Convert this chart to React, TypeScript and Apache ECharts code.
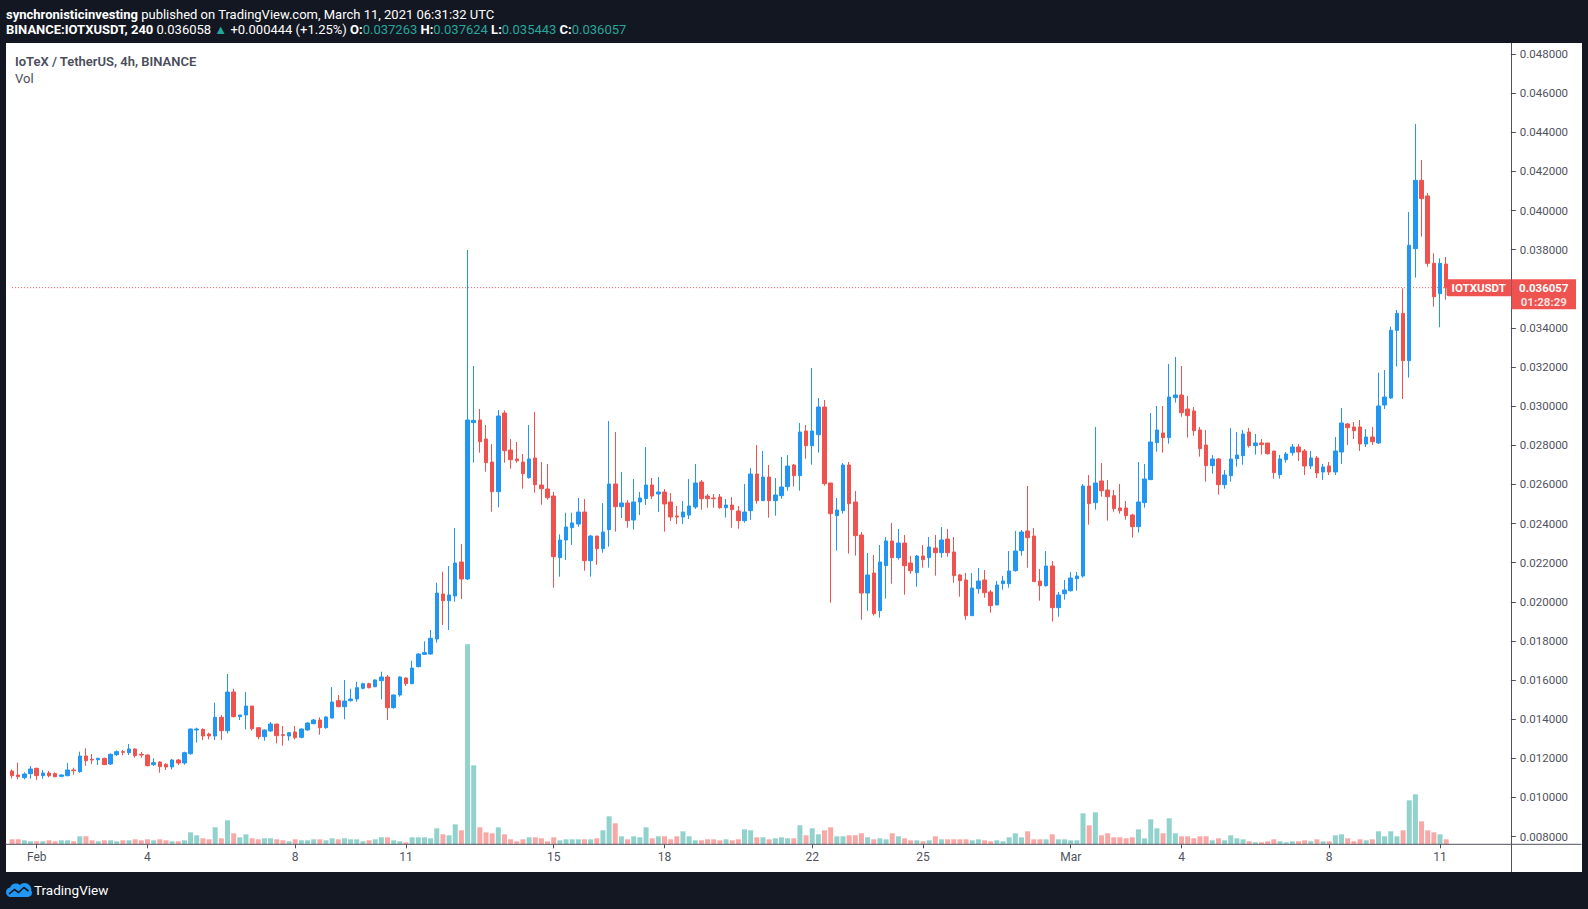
import React, { useEffect, useRef } from "react";
import * as echarts from "echarts";

// ---------- data (4h candles, first = 2021-01-31 08:00 UTC) ----------
const START_UTC = Date.UTC(2021, 0, 31, 8, 0, 0);
const EMPTY_SLOTS = 10;

const opens = [
  0.011353, 0.011149, 0.011012, 0.011217,
  0.011489, 0.011114, 0.011251, 0.011217, 0.011080, 0.011114, 0.011404, 0.011319, 0.012120, 0.011950,
  0.011932, 0.012001, 0.011711, 0.012188, 0.012341, 0.012290, 0.012477, 0.012205, 0.012171, 0.011677,
  0.011813, 0.011694, 0.011558, 0.011915, 0.011762, 0.012239, 0.013449, 0.013483, 0.013244, 0.013142,
  0.014096, 0.013414, 0.015391, 0.014130, 0.014215, 0.014675, 0.013568, 0.013108, 0.013398, 0.013755,
  0.013210, 0.013142, 0.013346, 0.013074, 0.013449, 0.013772, 0.013960, 0.013568, 0.014062, 0.014948,
  0.014641, 0.014948, 0.015033, 0.015578, 0.015817, 0.015663, 0.015970, 0.016157, 0.014590, 0.015238,
  0.016106, 0.015817, 0.016686, 0.017316, 0.017333, 0.018099, 0.020399, 0.020059, 0.020297, 0.022035,
  0.021166, 0.029157, 0.029293, 0.028322, 0.027146, 0.025630, 0.029651, 0.027759, 0.027299, 0.027146,
  0.026345, 0.027351, 0.025970, 0.025766, 0.025408, 0.022257, 0.023160, 0.023790, 0.023977, 0.024591,
  0.022104, 0.023364, 0.022717, 0.023688, 0.026022, 0.024864, 0.025051, 0.024182, 0.025102, 0.025273,
  0.025971, 0.025511, 0.025613, 0.025102, 0.024387, 0.024335, 0.024438, 0.024847, 0.026124, 0.025408,
  0.025306, 0.025357, 0.024812, 0.024948, 0.024642, 0.024148, 0.024659, 0.026533, 0.025170, 0.026379,
  0.025170, 0.025425, 0.025885, 0.026993, 0.026448, 0.028731, 0.027981, 0.028543, 0.029957, 0.026073,
  0.024403, 0.024659, 0.026993, 0.025102, 0.023415, 0.020451, 0.021473, 0.019548, 0.021848, 0.023109,
  0.022257, 0.023007, 0.021984, 0.021490, 0.022342, 0.022257, 0.022751, 0.022512, 0.023211, 0.022547,
  0.021371, 0.021116, 0.019293, 0.020672, 0.021116, 0.020502, 0.019838, 0.020928, 0.020928, 0.021593,
  0.022615, 0.023620, 0.023364, 0.021065, 0.020826, 0.021831, 0.019702, 0.020417, 0.020570, 0.021184,
  0.021320, 0.025920, 0.025068, 0.026176, 0.025716, 0.025426, 0.024796, 0.024796, 0.024438, 0.023842,
  0.025068, 0.026244, 0.028135, 0.028629, 0.028391, 0.030435, 0.030571, 0.029856, 0.029754, 0.028783,
  0.028016, 0.026960, 0.027300, 0.025988, 0.026449, 0.027317, 0.027471, 0.028680, 0.027982, 0.028118,
  0.028118, 0.027709, 0.026500, 0.027266, 0.027624, 0.027914, 0.027709, 0.026943, 0.027352, 0.026636,
  0.026943, 0.026636, 0.027658, 0.029089, 0.028936, 0.028936, 0.028067, 0.028425, 0.028118, 0.030060,
  0.030418, 0.033877, 0.034746, 0.032326, 0.038051, 0.041543, 0.040743, 0.037301, 0.035751, 0.037263,
];

const highs = [
  0.011438, 0.011779, 0.011285, 0.011609,
  0.011523, 0.011404, 0.011353, 0.011285, 0.011182, 0.011762, 0.011523, 0.012341, 0.012511, 0.012222,
  0.012035, 0.012035, 0.012256, 0.012409, 0.012426, 0.012733, 0.012511, 0.012324, 0.012205, 0.012001,
  0.011847, 0.011745, 0.011966, 0.011966, 0.012341, 0.013517, 0.013568, 0.013534, 0.013312, 0.014846,
  0.014215, 0.016311, 0.015561, 0.014215, 0.015391, 0.014675, 0.013568, 0.013483, 0.013857, 0.013755,
  0.013653, 0.013346, 0.013653, 0.013534, 0.013840, 0.014011, 0.014096, 0.014147, 0.015646, 0.015238,
  0.016004, 0.015561, 0.015919, 0.015868, 0.015868, 0.016038, 0.016430, 0.016260, 0.015271, 0.016191,
  0.016140, 0.016992, 0.017367, 0.017980, 0.018560, 0.020978, 0.021541, 0.021830, 0.023773, 0.022955,
  0.037982, 0.032053, 0.029855, 0.029038, 0.028066, 0.029804, 0.029787, 0.028322, 0.028168, 0.027555,
  0.029038, 0.029702, 0.027146, 0.027044, 0.025613, 0.023449, 0.024557, 0.024557, 0.025307, 0.025255,
  0.023415, 0.023364, 0.025051, 0.029242, 0.028680, 0.026635, 0.025204, 0.026278, 0.025613, 0.027913,
  0.026329, 0.026380, 0.025767, 0.025562, 0.024898, 0.025153, 0.026278, 0.027044, 0.026226, 0.025510,
  0.025510, 0.025510, 0.025255, 0.025357, 0.024897, 0.026022, 0.026839, 0.028015, 0.027708, 0.026993,
  0.026328, 0.027402, 0.027504, 0.027044, 0.029140, 0.029037, 0.031951, 0.030417, 0.030315, 0.026073,
  0.025306, 0.027095, 0.027147, 0.025664, 0.023569, 0.022495, 0.022393, 0.022904, 0.023313, 0.024029,
  0.023722, 0.023415, 0.022342, 0.022393, 0.022904, 0.023313, 0.023415, 0.023824, 0.023722, 0.023313,
  0.021422, 0.021473, 0.021473, 0.021729, 0.021627, 0.020604, 0.021065, 0.021320, 0.022598, 0.023620,
  0.023671, 0.025920, 0.023773, 0.021678, 0.022598, 0.022087, 0.020502, 0.021116, 0.021525, 0.021525,
  0.026022, 0.026482, 0.028936, 0.027096, 0.026227, 0.025716, 0.026022, 0.025153, 0.024506, 0.027147,
  0.027045, 0.029652, 0.030009, 0.030009, 0.032156, 0.032514, 0.032054, 0.030520, 0.029958, 0.028936,
  0.028783, 0.027505, 0.027351, 0.026738, 0.028885, 0.028680, 0.028783, 0.028885, 0.028578, 0.028322,
  0.028118, 0.027709, 0.027505, 0.027658, 0.028067, 0.028067, 0.027812, 0.027709, 0.027454, 0.027045,
  0.027147, 0.028425, 0.029907, 0.029140, 0.029191, 0.029294, 0.028834, 0.028936, 0.031712, 0.031849,
  0.034064, 0.034916, 0.036023, 0.039925, 0.044423, 0.042583, 0.040896, 0.037812, 0.037557, 0.037624,
];

const lows = [
  0.010978, 0.010927, 0.010927, 0.010961,
  0.010893, 0.010961, 0.011029, 0.011029, 0.011029, 0.011080, 0.011165, 0.011268, 0.011626, 0.011711,
  0.011660, 0.011660, 0.011660, 0.012120, 0.012154, 0.012171, 0.012035, 0.012035, 0.011592, 0.011609,
  0.011268, 0.011404, 0.011438, 0.011660, 0.011677, 0.012188, 0.012801, 0.012937, 0.012971, 0.012937,
  0.012937, 0.013278, 0.014096, 0.013960, 0.013483, 0.013414, 0.012971, 0.012903, 0.013363, 0.012767,
  0.012648, 0.012903, 0.012971, 0.013023, 0.013414, 0.013738, 0.013210, 0.013517, 0.014028, 0.014607,
  0.013994, 0.014897, 0.014897, 0.015527, 0.015578, 0.015629, 0.015016, 0.013960, 0.014539, 0.015152,
  0.015697, 0.015783, 0.016652, 0.017282, 0.017299, 0.017912, 0.018815, 0.018560, 0.020008, 0.020144,
  0.021115, 0.027112, 0.027623, 0.026652, 0.024608, 0.024829, 0.027112, 0.026805, 0.027112, 0.025783,
  0.026294, 0.025579, 0.024965, 0.025221, 0.020723, 0.021286, 0.022138, 0.022904, 0.023841, 0.021592,
  0.021286, 0.021899, 0.022512, 0.022819, 0.023586, 0.024284, 0.023790, 0.023688, 0.024438, 0.024949,
  0.025255, 0.024591, 0.023586, 0.024131, 0.023978, 0.023978, 0.024233, 0.024744, 0.024710, 0.024812,
  0.024812, 0.024761, 0.024301, 0.023790, 0.023739, 0.024046, 0.024199, 0.025016, 0.025170, 0.024301,
  0.024403, 0.025272, 0.025681, 0.025885, 0.025681, 0.027317, 0.027010, 0.027623, 0.025936, 0.019957,
  0.022614, 0.024506, 0.022461, 0.022359, 0.019088, 0.019548, 0.019293, 0.019190, 0.020161, 0.020928,
  0.022155, 0.020366, 0.021439, 0.020775, 0.021746, 0.021746, 0.021337, 0.022257, 0.022308, 0.020979,
  0.020264, 0.019088, 0.019293, 0.020417, 0.020213, 0.019446, 0.019838, 0.020621, 0.020724, 0.021542,
  0.022359, 0.021746, 0.021031, 0.020059, 0.020775, 0.018986, 0.019241, 0.020110, 0.020519, 0.020570,
  0.021235, 0.023944, 0.024710, 0.025375, 0.024148, 0.024608, 0.024506, 0.024199, 0.023279, 0.023535,
  0.024813, 0.026244, 0.027675, 0.027624, 0.028084, 0.030180, 0.029464, 0.028391, 0.028493, 0.027420,
  0.026142, 0.026551, 0.025477, 0.025784, 0.026142, 0.026909, 0.027011, 0.027880, 0.027522, 0.027522,
  0.027522, 0.026295, 0.026295, 0.027113, 0.027471, 0.027198, 0.026482, 0.026789, 0.026329, 0.026227,
  0.026482, 0.026482, 0.027045, 0.028016, 0.028323, 0.027709, 0.027914, 0.028016, 0.028067, 0.029856,
  0.030367, 0.032020, 0.030367, 0.031457, 0.036569, 0.038664, 0.037131, 0.035086, 0.034030, 0.035443,
];

const closes = [
  0.011114, 0.011063, 0.011200, 0.011455,
  0.011114, 0.011251, 0.011114, 0.011063, 0.011149, 0.011404, 0.011370, 0.012120, 0.011881, 0.011916,
  0.012001, 0.011677, 0.012205, 0.012341, 0.012307, 0.012477, 0.012137, 0.012171, 0.011626, 0.011779,
  0.011575, 0.011558, 0.011915, 0.011762, 0.012290, 0.013500, 0.013500, 0.013142, 0.013142, 0.014096,
  0.013414, 0.015391, 0.014130, 0.014215, 0.014675, 0.013517, 0.013108, 0.013449, 0.013755, 0.013159,
  0.013176, 0.013312, 0.013057, 0.013500, 0.013806, 0.013960, 0.013568, 0.014113, 0.014880, 0.014641,
  0.014931, 0.015033, 0.015612, 0.015817, 0.015612, 0.016004, 0.016157, 0.014590, 0.015238, 0.016157,
  0.015817, 0.016617, 0.017333, 0.017401, 0.018134, 0.020451, 0.020059, 0.020348, 0.021984, 0.021166,
  0.029293, 0.029276, 0.028185, 0.027112, 0.025630, 0.029497, 0.027725, 0.027265, 0.027214, 0.026550,
  0.027299, 0.025988, 0.025783, 0.025323, 0.022308, 0.023160, 0.023824, 0.024029, 0.024591, 0.022104,
  0.023364, 0.022717, 0.023569, 0.026022, 0.024864, 0.025051, 0.024148, 0.025102, 0.025307, 0.025971,
  0.025409, 0.025613, 0.025000, 0.024335, 0.024335, 0.024591, 0.024898, 0.026073, 0.025272, 0.025272,
  0.025272, 0.024812, 0.024948, 0.024710, 0.024148, 0.024591, 0.026533, 0.025170, 0.026379, 0.025170,
  0.025459, 0.025868, 0.026942, 0.026448, 0.028679, 0.027981, 0.028731, 0.029957, 0.026039, 0.024505,
  0.024693, 0.026993, 0.025017, 0.023381, 0.020451, 0.021371, 0.019395, 0.022035, 0.023109, 0.022257,
  0.023007, 0.021848, 0.021592, 0.022342, 0.022155, 0.022802, 0.022512, 0.023160, 0.022512, 0.021337,
  0.021081, 0.019293, 0.020707, 0.021064, 0.020468, 0.019804, 0.020860, 0.021065, 0.021576, 0.022598,
  0.023569, 0.023279, 0.021031, 0.020826, 0.021831, 0.019702, 0.020349, 0.020604, 0.021218, 0.021320,
  0.025920, 0.025017, 0.026073, 0.025681, 0.025375, 0.024762, 0.024659, 0.024404, 0.023842, 0.025102,
  0.026278, 0.028169, 0.028783, 0.028391, 0.030469, 0.030571, 0.029668, 0.029515, 0.028749, 0.027828,
  0.026960, 0.027300, 0.025988, 0.026483, 0.027300, 0.027505, 0.028578, 0.027982, 0.028118, 0.028033,
  0.027573, 0.026602, 0.027300, 0.027556, 0.027914, 0.027658, 0.026943, 0.027352, 0.026585, 0.026891,
  0.026636, 0.027709, 0.029140, 0.028902, 0.028748, 0.028067, 0.028425, 0.028186, 0.030009, 0.030469,
  0.033877, 0.034746, 0.032326, 0.038221, 0.041543, 0.040606, 0.037301, 0.035597, 0.037301, 0.036057,
];

const volumes = [
  5, 5, 4, 3,
  3, 3, 4, 3, 4, 4, 3, 8, 8, 4,
  3, 4, 4, 3, 4, 4, 5, 4, 5, 4,
  5, 4, 3, 3, 4, 12, 9, 6, 5, 17,
  6, 24, 11, 7, 10, 6, 5, 6, 6, 5,
  4, 3, 5, 4, 4, 5, 5, 4, 6, 5,
  6, 5, 5, 3, 4, 5, 7, 7, 4, 3,
  2, 7, 7, 7, 6, 16, 10, 9, 20, 14,
  200, 79, 17, 12, 11, 17, 10, 5, 3, 5,
  7, 7, 6, 3, 7, 4, 5, 5, 5, 5,
  5, 6, 14, 28, 21, 8, 5, 8, 7, 17,
  6, 8, 8, 5, 8, 13, 8, 4, 4, 5,
  5, 4, 5, 4, 5, 15, 14, 7, 7, 5,
  6, 7, 6, 6, 19, 9, 16, 10, 14, 17,
  8, 8, 9, 9, 11, 7, 5, 6, 5, 11,
  8, 6, 4, 4, 3, 4, 8, 5, 5, 5,
  5, 5, 4, 5, 4, 3, 4, 3, 7, 11,
  7, 13, 5, 5, 5, 10, 5, 5, 4, 4,
  31, 19, 32, 9, 11, 7, 7, 6, 7, 15,
  6, 25, 16, 11, 26, 11, 8, 8, 6, 8,
  8, 4, 6, 4, 9, 6, 5, 3, 2, 2,
  3, 5, 3, 2, 3, 3, 4, 3, 5, 3,
  3, 9, 10, 6, 3, 5, 4, 5, 13, 8,
  13, 8, 14, 44, 50, 23, 14, 12, 10, 5,
];

const tickTimes = [
  "02-01 00:00", "02-04 00:00", "02-08 00:00", "02-11 00:00", "02-15 00:00", "02-18 00:00",
  "02-22 00:00", "02-25 00:00", "03-01 00:00", "03-04 00:00", "03-08 00:00", "03-11 00:00",
];
const tickLabels = ["Feb", "4", "8", "11", "15", "18", "22", "25", "Mar", "4", "8", "11"];
const priceTicks = [
  0.008, 0.01, 0.012, 0.014, 0.016, 0.018, 0.02, 0.022, 0.024, 0.026, 0.028, 0.03, 0.032, 0.034,
  0.036, 0.038, 0.04, 0.042, 0.044, 0.046, 0.048,
];

const HEADER_USER = "synchronisticinvesting";
const HEADER_REST = " published on TradingView.com, March 11, 2021 06:31:32 UTC";
const SYMBOL_TITLE = "BINANCE:IOTXUSDT, 240";
const LAST_PRICE = "0.036058";
const CHANGE = "+0.000444 (+1.25%)";
const LEGEND_TITLE = "IoTeX / TetherUS, 4h, BINANCE";
const TICKER = "IOTXUSDT";
const COUNTDOWN = "01:28:29";

// ---------- styling ----------
const UP = "#2196F3";
const DOWN = "#EF5350";
const VOL_UP = "rgba(38,166,154,0.5)";
const VOL_DOWN = "rgba(239,83,80,0.5)";
const TEAL = "#26A69A";
const AXIS = "#50535E";
const FONT = "Roboto, 'Noto Sans', sans-serif";
const HEAD_SIZE = 13;

const GRID_LEFT = 9.0;
const GRID_WIDTH = 1501.8;
const GRID_TOP = 43;
const GRID_HEIGHT = 801.3;
const Y_MIN = 0.007607;
const Y_MAX = 0.048562;
const VOL_HEIGHT = 200;
const VOL_MAX = 200;

const LOGO_PATH =
  "M5 14 C2.2 14 0 11.8 0 9.2 C0 6.8 1.8 4.8 4.1 4.5 C5 2.1 7.2 0.6 9.8 0.6 C11.3 0.6 12.7 1.1 13.8 2 C15 0.8 16.7 0 18.5 0 C22.3 0 25.3 3 25.3 6.8 C25.3 7 25.3 7.2 25.3 7.4 C25.8 8.1 26 9 26 9.8 C26 12.1 24.2 14 21.9 14 Z";
echarts.graphic.registerShape("tvlogo", echarts.graphic.extendPath(LOGO_PATH, {}));

function fmt2(n: number) {
  return n < 10 ? "0" + n : "" + n;
}

function buildCategories(): string[] {
  const out: string[] = [];
  const n = opens.length + EMPTY_SLOTS;
  for (let i = 0; i < n; i++) {
    const d = new Date(START_UTC + i * 4 * 3600 * 1000);
    out.push(`${fmt2(d.getUTCMonth() + 1)}-${fmt2(d.getUTCDate())} ${fmt2(d.getUTCHours())}:00`);
  }
  return out;
}

function yPix(p: number) {
  return GRID_TOP + ((Y_MAX - p) / (Y_MAX - Y_MIN)) * GRID_HEIGHT;
}

function buildOption() {
  const cats = buildCategories();
  const candles = opens.map((o, i) => [o, closes[i], lows[i], highs[i]]);
  const vols = volumes.map((v, i) => ({
    value: v,
    itemStyle: { color: closes[i] >= opens[i] ? VOL_UP : VOL_DOWN },
  }));
  const last = opens.length - 1;
  const lastClose = closes[last];
  const py = yPix(lastClose);
  const isTick = (_i: number, v: string) => tickTimes.indexOf(v) >= 0;

  const headerLine2 =
    `{b|${SYMBOL_TITLE}} {n|${LAST_PRICE}} {t|▲} {n|${CHANGE}} ` +
    `{b|O:}{t|${opens[last].toFixed(6)}} {b|H:}{t|${highs[last].toFixed(6)}} ` +
    `{b|L:}{t|${lows[last].toFixed(6)}} {b|C:}{t|${closes[last].toFixed(6)}}`;

  const richBase = { fontSize: HEAD_SIZE, fontFamily: FONT };

  return {
    animation: false,
    backgroundColor: "transparent",
    grid: [
      { left: GRID_LEFT, width: GRID_WIDTH, top: GRID_TOP, height: GRID_HEIGHT },
      { left: GRID_LEFT, width: GRID_WIDTH, top: GRID_TOP + GRID_HEIGHT - VOL_HEIGHT, height: VOL_HEIGHT },
    ],
    xAxis: [
      {
        type: "category",
        data: cats,
        gridIndex: 0,
        boundaryGap: true,
        axisLine: { show: false },
        axisTick: {
          show: true,
          interval: isTick,
          alignWithLabel: true,
          length: 4,
          lineStyle: { color: AXIS },
        },
        axisLabel: {
          interval: isTick,
          formatter: (v: string) => {
            const i = tickTimes.indexOf(v);
            return i >= 0 ? tickLabels[i] : "";
          },
          color: AXIS,
          fontSize: 12,
          fontFamily: FONT,
          margin: 7,
        },
        splitLine: { show: false },
      },
      {
        type: "category",
        data: cats,
        gridIndex: 1,
        boundaryGap: true,
        show: false,
      },
    ],
    yAxis: [
      {
        type: "value",
        gridIndex: 0,
        position: "right",
        min: Y_MIN,
        max: Y_MAX,
        splitLine: { show: false },
        axisLine: { show: false },
        axisTick: {
          show: true,
          customValues: priceTicks,
          length: 5,
          lineStyle: { color: AXIS },
        },
        axisLabel: {
          customValues: priceTicks,
          formatter: (v: number) => v.toFixed(6),
          color: AXIS,
          fontSize: 11.5,
          fontFamily: FONT,
          margin: 9,
        },
      },
      {
        type: "value",
        gridIndex: 1,
        min: 0,
        max: VOL_MAX,
        show: false,
        splitLine: { show: false },
      },
    ],
    series: [
      {
        type: "bar",
        name: "Vol",
        xAxisIndex: 1,
        yAxisIndex: 1,
        data: vols,
        barWidth: 5,
        z: 1,
        silent: true,
      },
      {
        type: "line",
        name: "last",
        xAxisIndex: 0,
        yAxisIndex: 0,
        data: [
          [0, lastClose],
          [cats.length - 1, lastClose],
        ],
        symbol: "none",
        silent: true,
        z: 2,
        lineStyle: { color: DOWN, type: [1, 2], width: 1 },
      },
      {
        type: "candlestick",
        name: "IOTXUSDT",
        xAxisIndex: 0,
        yAxisIndex: 0,
        data: candles,
        barWidth: 4,
        z: 3,
        itemStyle: {
          color: UP,
          color0: DOWN,
          borderColor: UP,
          borderColor0: DOWN,
          borderWidth: 1,
        },
      },
    ],
    graphic: [
      // header line 1
      {
        type: "text",
        x: 6,
        y: 14,
        z: 50,
        style: {
          text: `{b|${HEADER_USER}}{n|${HEADER_REST}}`,
          fill: "#ffffff",
          fontSize: HEAD_SIZE,
          fontFamily: FONT,
          verticalAlign: "middle",
          textVerticalAlign: "middle",
          rich: {
            b: { ...richBase, fontWeight: "bold", fill: "#ffffff", color: "#ffffff" },
            n: { ...richBase, fill: "#ffffff", color: "#ffffff" },
          },
        },
      },
      // header line 2
      {
        type: "text",
        x: 6,
        y: 29.5,
        z: 50,
        style: {
          text: headerLine2,
          fill: "#ffffff",
          fontSize: HEAD_SIZE,
          fontFamily: FONT,
          verticalAlign: "middle",
          textVerticalAlign: "middle",
          rich: {
            b: { ...richBase, fontWeight: "bold", fill: "#ffffff", color: "#ffffff" },
            n: { ...richBase, fill: "#ffffff", color: "#ffffff" },
            t: { ...richBase, fill: TEAL, color: TEAL },
          },
        },
      },
      // legend
      {
        type: "text",
        x: 15,
        y: 61,
        z: 50,
        style: {
          text: LEGEND_TITLE,
          fill: "#4A4E5A",
          fontSize: 13,
          fontWeight: 600,
          fontFamily: FONT,
          verticalAlign: "middle",
          textVerticalAlign: "middle",
        },
      },
      {
        type: "text",
        x: 15,
        y: 78,
        z: 50,
        style: {
          text: "Vol",
          fill: "#4A4E5A",
          fontSize: 13,
          fontFamily: FONT,
          verticalAlign: "middle",
          textVerticalAlign: "middle",
        },
      },
      // axis lines
      {
        type: "line",
        z: 40,
        shape: { x1: 5.5, y1: GRID_TOP + GRID_HEIGHT, x2: 1581.5, y2: GRID_TOP + GRID_HEIGHT },
        style: { stroke: AXIS, lineWidth: 1 },
      },
      {
        type: "line",
        z: 40,
        shape: { x1: 1511.5, y1: 43, x2: 1511.5, y2: 872 },
        style: { stroke: AXIS, lineWidth: 1 },
      },
      // last price tag
      {
        type: "rect",
        z: 60,
        shape: { x: 1446.5, y: py - 8.5, width: 64.5, height: 17, r: [2, 0, 0, 2] },
        style: { fill: DOWN },
      },
      {
        type: "text",
        z: 61,
        x: 1478.7,
        y: py,
        style: {
          text: TICKER,
          fill: "#ffffff",
          fontSize: 11.5,
          fontWeight: "bold",
          fontFamily: FONT,
          align: "center",
          textAlign: "center",
          verticalAlign: "middle",
          textVerticalAlign: "middle",
        },
      },
      {
        type: "rect",
        z: 60,
        shape: { x: 1511.5, y: py - 8.5, width: 64.5, height: 30 },
        style: { fill: DOWN },
      },
      {
        type: "text",
        z: 61,
        x: 1543.8,
        y: py,
        style: {
          text: lastClose.toFixed(6),
          fill: "#ffffff",
          fontSize: 11.5,
          fontWeight: "bold",
          fontFamily: FONT,
          align: "center",
          textAlign: "center",
          verticalAlign: "middle",
          textVerticalAlign: "middle",
        },
      },
      {
        type: "text",
        z: 61,
        x: 1543.8,
        y: py + 14,
        style: {
          text: COUNTDOWN,
          fill: "rgba(255,255,255,0.85)",
          fontSize: 11.5,
          fontWeight: "bold",
          fontFamily: FONT,
          align: "center",
          textAlign: "center",
          verticalAlign: "middle",
          textVerticalAlign: "middle",
        },
      },
      // TradingView logo
      {
        type: "tvlogo",
        z: 50,
        x: 6,
        y: 883,
        style: { fill: UP },
      },
      {
        type: "polyline",
        z: 51,
        x: 6,
        y: 883,
        shape: { points: [[3, 11], [8.5, 6.5], [12.5, 9.5], [18, 4.5], [22.5, 8]] },
        style: { stroke: "#131722", lineWidth: 1.6, fill: "none" },
      },
      {
        type: "text",
        z: 50,
        x: 34,
        y: 890,
        style: {
          text: "TradingView",
          fill: "#ffffff",
          fontSize: 13.5,
          fontFamily: FONT,
          verticalAlign: "middle",
          textVerticalAlign: "middle",
        },
      },
    ],
  };
}

export default function App() {
  const ref = useRef<HTMLDivElement>(null);
  useEffect(() => {
    document.body.style.margin = "0";
    const el = ref.current;
    if (!el) return;
    const chart = echarts.init(el, null, { renderer: "svg" });
    chart.setOption(buildOption() as any);
    return () => {
      chart.dispose();
    };
  }, []);
  return (
    <div
      style={{
        position: "fixed",
        left: 0,
        top: 0,
        width: 1588,
        height: 909,
        background: "#131722",
        overflow: "hidden",
      }}
    >
      <div
        style={{
          position: "absolute",
          left: 5.5,
          top: 43,
          width: 1576,
          height: 829,
          background: "#ffffff",
        }}
      />
      <div ref={ref} style={{ position: "absolute", left: 0, top: 0, width: 1588, height: 909 }} />
    </div>
  );
}
